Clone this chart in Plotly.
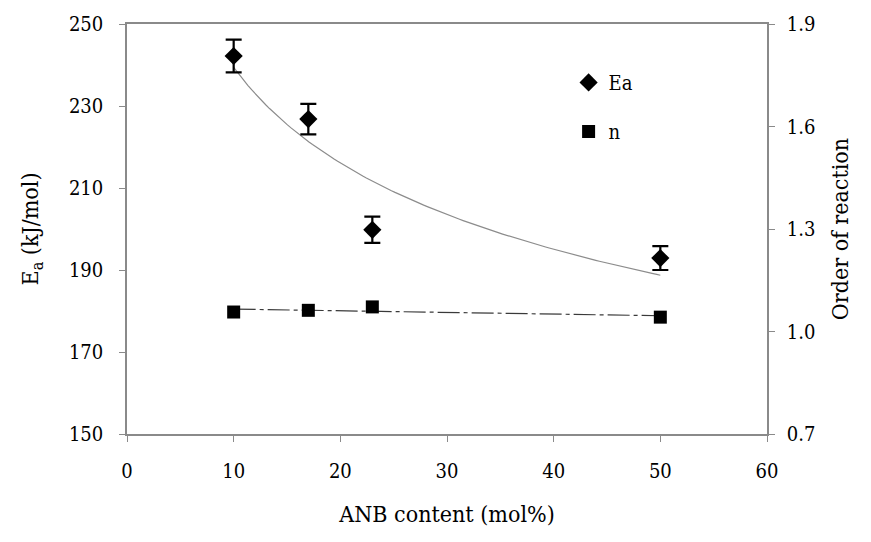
import numpy as np
import plotly.graph_objects as go

# ANB content of the samples (mol%)
anb_content = [10, 17, 23, 50]
# Activation energy Ea (kJ/mol) with its error
ea_values = [242.2, 226.8, 199.8, 192.9]
ea_errors = [4.0, 3.7, 3.2, 2.9]
# Reaction order n
n_values = [1.057, 1.062, 1.072, 1.042]

x_ticks = [0, 10, 20, 30, 40, 50, 60]
ea_ticks = [150, 170, 190, 210, 230, 250]
n_ticks = [0.7, 1.0, 1.3, 1.6, 1.9]

FONT = "'DejaVu Serif Condensed', 'DejaVu Serif', serif"
AXIS_GREY = "#8a8a8a"

# Power-law trendline for Ea and linear trendline for n
xa = np.array(anb_content, dtype=float)
b, ln_a = np.polyfit(np.log(xa), np.log(np.array(ea_values)), 1)
x_fit = np.linspace(min(anb_content), max(anb_content), 120)
ea_fit = np.exp(ln_a) * x_fit ** b
slope, icpt = np.polyfit(xa, np.array(n_values), 1)
n_fit = slope * x_fit + icpt

fig = go.Figure()

fig.add_trace(go.Scatter(
    x=x_fit, y=ea_fit, mode="lines", showlegend=False, hoverinfo="skip",
    line=dict(color="#8c8c8c", width=1.2),
))
fig.add_trace(go.Scatter(
    x=x_fit, y=n_fit, mode="lines", showlegend=False, hoverinfo="skip",
    yaxis="y2", line=dict(color="#3a3a3a", width=1.2, dash="22px,4px,4px,4px"),
))
fig.add_trace(go.Scatter(
    x=anb_content, y=ea_values, mode="markers", name="Ea", legendgroup="ea",
    marker=dict(symbol="diamond", size=14, color="black"),
    error_y=dict(type="data", array=ea_errors, color="black", thickness=2.2, width=8),
))
fig.add_trace(go.Scatter(
    x=anb_content, y=n_values, mode="markers", name="n", legendgroup="n",
    yaxis="y2",
    marker=dict(symbol="square", size=13, color="black"),
))

tick_font = dict(family=FONT, size=20, color="black")
title_font = dict(family=FONT, size=23, color="black")

fig.update_layout(
    width=871, height=542,
    margin=dict(l=127, r=104, t=24, b=108),
    paper_bgcolor="white", plot_bgcolor="white",
    font=dict(family=FONT, size=20, color="black"),
    xaxis=dict(
        range=[0, 60], tickvals=x_ticks, showgrid=False, zeroline=False,
        showline=True, linecolor=AXIS_GREY, linewidth=1.5, mirror=True,
        ticks="outside", ticklen=6, tickcolor=AXIS_GREY, tickfont=tick_font,
        ticklabelstandoff=12,
        title=dict(text="ANB content (mol%)", font=title_font, standoff=24),
    ),
    yaxis=dict(
        range=[150, 250], tickvals=ea_ticks, showgrid=False, zeroline=False,
        showline=True, linecolor=AXIS_GREY, linewidth=1.5,
        ticks="outside", ticklen=6, tickcolor=AXIS_GREY, tickfont=tick_font,
        ticklabelstandoff=12,
        title=dict(text="E<sub>a</sub> (kJ/mol)", font=title_font, standoff=24),
    ),
    yaxis2=dict(
        range=[0.7, 1.9], tickvals=n_ticks, ticktext=[f"{v:.1f}" for v in n_ticks],
        overlaying="y", side="right", showgrid=False, zeroline=False,
        showline=True, linecolor=AXIS_GREY, linewidth=1.5,
        ticks="outside", ticklen=6, tickcolor=AXIS_GREY, tickfont=tick_font,
        ticklabelstandoff=8,
        title=dict(text="Order of reaction", font=title_font, standoff=18),
    ),
    legend=dict(
        x=0.69, y=0.905, xanchor="left", yanchor="top",
        bgcolor="rgba(0,0,0,0)", borderwidth=0,
        font=dict(family=FONT, size=20), tracegroupgap=20, itemwidth=30,
    ),
)

fig.write_html("out.html")
